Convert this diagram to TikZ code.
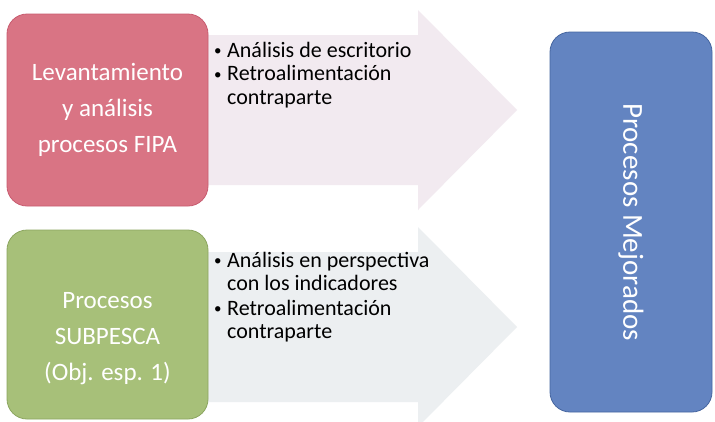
\documentclass[tikz,border=0pt]{standalone}
\usepackage{fontspec}
\setmainfont{Carlito}
\definecolor{pinkbox}{RGB}{217,116,132}
\definecolor{pinkedge}{RGB}{200,92,112}
\definecolor{greenbox}{RGB}{167,192,121}
\definecolor{greenedge}{RGB}{140,166,96}
\definecolor{bluebox}{RGB}{99,132,193}
\definecolor{blueedge}{RGB}{70,102,160}
\definecolor{arrowone}{RGB}{242,234,240}
\definecolor{arrowtwo}{RGB}{236,239,241}
\newcommand{\bitem}[1]{\makebox[13pt][l]{\fontsize{15}{15}\selectfont\raisebox{1.5pt}{•}}\begin{tabular}[t]{@{}l@{}}#1\end{tabular}}
\begin{document}
\begin{tikzpicture}[x=1pt,y=-1pt,
  boxstyle/.style={draw, line width=0.8pt, rounded corners=20pt},
  boxtext/.style={text=white, align=center, font=\fontsize{25}{36}\selectfont},
  listtext/.style={anchor=north west, inner sep=0pt, align=left,
    font=\fontsize{22}{23.5}\selectfont, text=black}]
\useasboundingbox (0,0) rectangle (715,421);
\clip (0,0) rectangle (715,421);
\fill[white] (0,0) rectangle (715,421);
% arrows
\fill[arrowone] (200,35) -- (418,35) -- (418,10) -- (517,110) -- (418,210) -- (418,185) -- (200,185) -- cycle;
\fill[arrowtwo] (200,252) -- (418,252) -- (418,227) -- (517,327) -- (418,427) -- (418,402) -- (200,402) -- cycle;
% boxes
\draw[boxstyle, fill=pinkbox, draw=pinkedge] (7,14) rectangle (208,206);
\draw[boxstyle, fill=greenbox, draw=greenedge] (7,230) rectangle (208,419);
\draw[boxstyle, fill=bluebox, draw=blueedge] (550,32) rectangle (712,412);
% box texts
\node[boxtext] (fipa) at (107.5,110) {Levantamiento\\y análisis\\procesos FIPA};
\node[boxtext] (subpesca) at (107.5,339) {Procesos\\SUBPESCA\\(Obj. esp. 1)};
\node[text=white, rotate=-90, font=\fontsize{29}{34}\selectfont] (mejorados) at (631,222) {Procesos Mejorados};
% lists
\node[listtext] (list1) at (214,37) {\bitem{\rule{0pt}{20pt}Análisis de escritorio}\\\bitem{Retroalimentación\\contraparte}};
\node[listtext] (list2) at (214,247) {\bitem{\rule{0pt}{20pt}Análisis en perspectiva\\con los indicadores}\\\bitem{Retroalimentación\\contraparte}};
\end{tikzpicture}
\end{document}
